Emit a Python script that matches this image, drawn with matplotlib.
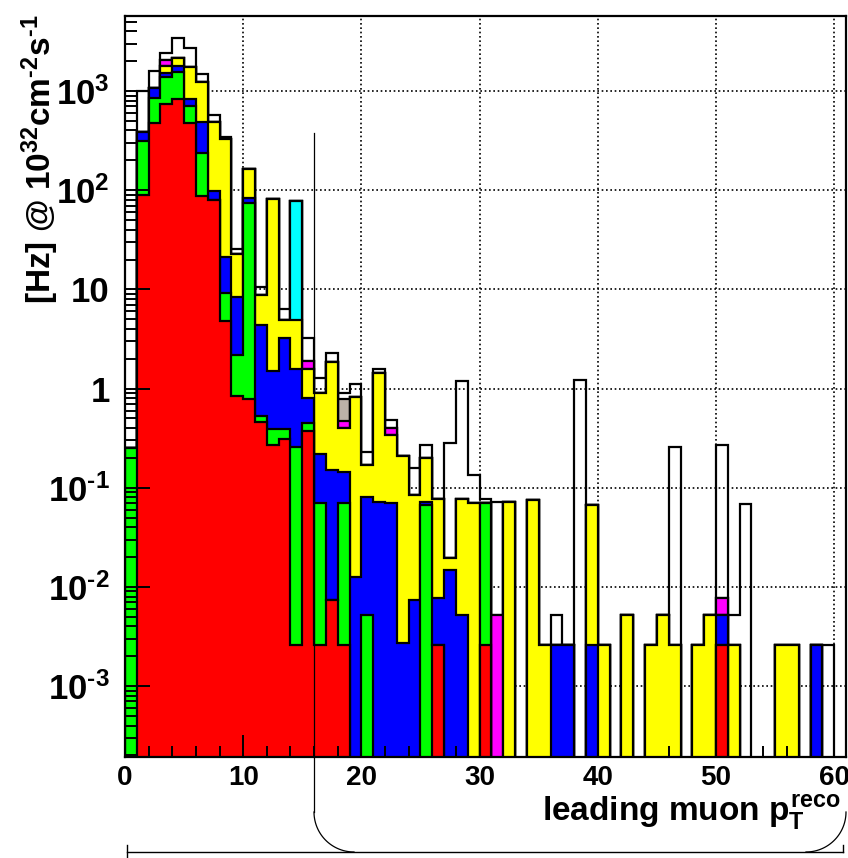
import numpy as np
import matplotlib
matplotlib.use("Agg")
import matplotlib.pyplot as plt
from matplotlib.lines import Line2D
from matplotlib.ticker import FixedLocator, LogLocator, FuncFormatter, NullFormatter, MultipleLocator

plt.rcParams['font.family'] = ['Liberation Sans', 'DejaVu Sans']
plt.rcParams['font.weight'] = 'bold'
plt.rcParams['mathtext.fontset'] = 'custom'
plt.rcParams['mathtext.rm'] = 'Liberation Sans:bold'
plt.rcParams['mathtext.bf'] = 'Liberation Sans:bold'
plt.rcParams['mathtext.it'] = 'Liberation Sans:bold'

# bin edges: 61 bins of width 1 GeV from 0 to 61
edges = np.arange(0, 62)

# per-sample rates [Hz] in each bin (stacked bottom -> top)
red = [0, 89.5, 472, 740, 825, 479, 87, 80, 4.8, 0.84,
       0.78, 0.46, 0.27, 0.31, 0.0026, 0.37, 0.0026, 0.0074, 0.0026, 0,
       0, 0, 0, 0, 0, 0, 0.0026, 0, 0, 0,
       0.0026, 0, 0, 0, 0, 0, 0, 0, 0, 0,
       0, 0, 0, 0, 0, 0, 0, 0, 0, 0,
       0.0026, 0, 0, 0, 0, 0, 0, 0, 0, 0,
       0]
green = [0.25, 220.5, 372, 635, 741, 227, 149, 0, 4.3, 1.35,
         73.2, 0.07, 0.12, 0.08, 0.257, 0.08, 0.067, 0, 0.067, 0,
         0.0052, 0, 0, 0, 0, 0.067, 0, 0, 0, 0,
         0.067, 0, 0, 0, 0, 0, 0, 0, 0, 0,
         0, 0, 0, 0, 0, 0, 0, 0, 0, 0,
         0, 0, 0, 0, 0, 0, 0, 0, 0, 0,
         0]
blue = [0, 80, 221, 135, 220, 119, 254, 19, 12.3, 6.26,
        9, 3.82, 1.11, 2.81, 1.3, 0.36, 0.15, 0.143, 0.075, 0.0126,
        0.076, 0.072, 0.07, 0.0027, 0.0074, 0.005, 0.0052, 0.0148, 0.0052, 0,
        0, 0, 0, 0, 0, 0, 0.0026, 0.0026, 0, 0.0026,
        0, 0, 0, 0, 0, 0, 0, 0, 0, 0,
        0.0026, 0, 0, 0, 0, 0, 0, 0, 0.0026, 0,
        0]
yellow = [0, 0, 0, 276, 381, 908, 750, 391, 308.6, 14.45,
          79, 4.45, 79.5, 1.7, 3.34, 0.75, 0.69, 1.72, 0.255, 0.817,
          0.089, 1.37, 0.27, 0.207, 0.078, 0.128, 0.070, 0.0047, 0.071, 0.07,
          0, 0, 0.072, 0, 0.075, 0.0026, 0, 0, 0, 0.065,
          0.0026, 0, 0.0052, 0, 0.0026, 0.0052, 0.0026, 0, 0.0026, 0.0052,
          0, 0.0026, 0, 0, 0, 0.0026, 0.0026, 0, 0, 0,
          0]
cyan = [0] * 61
cyan[14] = 72.1
magenta = [0] * 61
magenta[3] = 259
magenta[15] = 0.34
magenta[18] = 0.07
magenta[22] = 0.06
magenta[31] = 0.0052
magenta[50] = 0.0026
grey = [0] * 61
grey[18] = 0.31
white = [0, 610, 535, 387, 1233, 967, 240, 83, 16, 2.9,
         0, 1.8, 0, 1.4, 0, 1.3, 0.38, 0.40, 0.13, 0.27,
         0.06, 0.12, 0.08, 0, 0.073, 0.07, 0, 0.26, 1.11, 0.065,
         0.008, 0.067, 0, 0, 0, 0, 0.0026, 0, 1.22, 0,
         0, 0, 0, 0, 0, 0, 0.257, 0, 0, 0,
         0.26, 0.0026, 0.068, 0, 0, 0, 0, 0, 0, 0.0026,
         0]

layers = [red, green, blue, yellow, cyan, magenta, grey, white]
colors = ['#ff0000', '#00ff00', '#0000ff', '#ffff00', '#00ffff', '#ff00ff', '#bcb1a8', None]
decades = [-3, -2, -1, 0, 1, 2, 3]

W, H = 848, 858
fig = plt.figure(figsize=(W / 100, H / 100), dpi=100)
ax = fig.add_axes([125 / W, 101 / H, 721 / W, 741 / H])
ax.set_yscale('log')
ax.set_xlim(0, 61)
ax.set_ylim(1.93e-4, 5700)
ax.set_axisbelow(False)

# dotted grid under the histograms
for xv in range(10, 61, 10):
    ax.axvline(xv, color='k', ls=(0, (1, 1.6)), lw=1.2, zorder=0.5)
for e in decades:
    ax.axhline(10.0 ** e, color='k', ls=(0, (1, 1.6)), lw=1.2, zorder=0.5)

# stack: draw cumulative histograms from the top layer down
cum = np.cumsum(np.array(layers, dtype=float), axis=0)
tiny = 1e-6
n = len(layers)
for k in reversed(range(n)):
    vals = np.where(cum[k] > 0, cum[k], tiny)
    z = 1.0 + (n - k) * 0.1
    if colors[k] is not None:
        ax.stairs(vals, edges, baseline=tiny, fill=True, facecolor=colors[k],
                  edgecolor='none', zorder=z)
    ax.stairs(vals, edges, baseline=tiny, fill=False, color='k', lw=1.6, zorder=z + 0.05)

# axes styling
for s in ax.spines.values():
    s.set_linewidth(1.6)
ax.xaxis.set_major_locator(MultipleLocator(10))
ax.xaxis.set_minor_locator(MultipleLocator(2))
ax.yaxis.set_major_locator(FixedLocator([10.0 ** e for e in decades]))
ax.yaxis.set_minor_locator(LogLocator(base=10, subs=np.arange(2, 10), numticks=20))
ax.yaxis.set_minor_formatter(NullFormatter())


def ylab(v, pos):
    e = int(round(np.log10(v)))
    if e == 0:
        return '1'
    if e == 1:
        return '10'
    return r'$10^{%s}$' % (r'\text{-}%d' % -e if e < 0 else '%d' % e)


ax.yaxis.set_major_formatter(FuncFormatter(ylab))
ax.tick_params(which='both', direction='in', top=False, right=False, width=1.4)
ax.tick_params(axis='x', which='major', length=16, pad=6, labelsize=20)
ax.tick_params(axis='x', which='minor', length=8)
ax.tick_params(axis='y', which='major', length=18, pad=11, labelsize=25)
ax.tick_params(axis='y', which='minor', length=8.5)

fig.text(841 / W, 1 - 821 / H, r'leading muon $p_{T}^{reco}$', ha='right', va='baseline',
         fontsize=24, fontweight='bold')
fig.text(40 / W, 1 - 14 / H, r'[Hz] @ 10$^{32}$cm$^{\text{-}2}$s$^{\text{-}1}$', rotation=90,
         ha='center', va='top', fontsize=24, fontweight='bold')


# leftover frame lines below the plot (figure pixel coordinates)
def fline(xs, ys, **kw):
    xs = np.asarray(xs, float) / W
    ys = 1 - np.asarray(ys, float) / H
    fig.add_artist(Line2D(xs, ys, transform=fig.transFigure, color='k', **kw))


t1 = np.linspace(np.pi, np.pi / 2, 30)
t2 = np.linspace(np.pi / 2, 0, 30)
fline([314, 314], [133, 812], lw=0.9)
fline(354 + 40 * np.cos(t1), 812 + 40 * np.sin(t1), lw=0.9)
fline(806 + 40 * np.cos(t2), 812 + 40 * np.sin(t2), lw=0.9)
fline([127, 843], [852, 852], lw=1.0)
fline([127, 127], [845, 858], lw=1.0)
fline([843, 843], [845, 852], lw=1.0)

fig.savefig('out.png', dpi=100)
